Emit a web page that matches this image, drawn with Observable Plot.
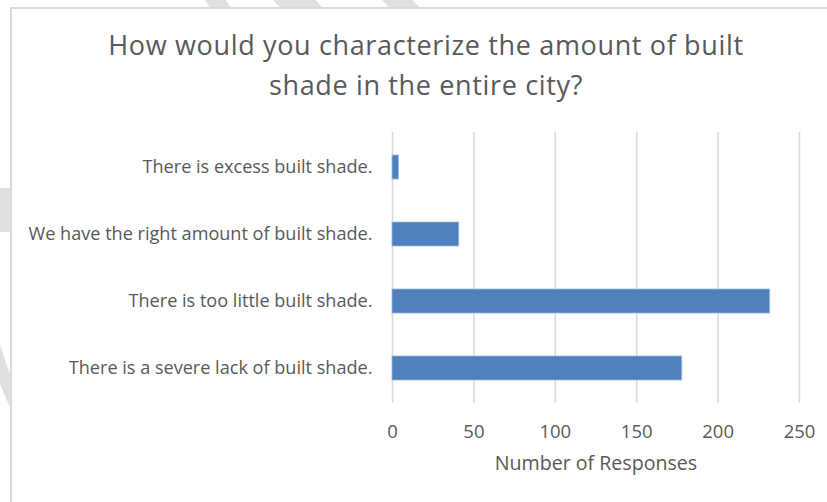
<!DOCTYPE html>
<html>
<head>
<meta charset="utf-8">
<script src="https://cdn.jsdelivr.net/npm/d3@7"></script>
<script src="https://cdn.jsdelivr.net/npm/@observablehq/plot@0.6"></script>
<style>
  html, body { margin: 0; padding: 0; background: #fff; width: 827px; height: 502px; overflow: hidden; position: relative; font-family: "Open Sans", Lato, sans-serif; }
  .stripe { position: absolute; background: #e0e0e0; }
  #frame { position: absolute; left: 10px; top: 7px; width: 840px; height: 520px; border: 2px solid #d9d9d9; background: #fff; }
  #title { position: absolute; left: 0; top: 25px; width: 852px; text-align: center; color: #595959; font-size: 27px; letter-spacing: 0.65px; line-height: 40px; font-weight: 400; white-space: nowrap; }
  #chart { position: absolute; left: 0; top: 0; }
</style>
</head>
<body>
<div class="stripe" style="left:205px;top:0;width:26px;height:8px;clip-path:polygon(0 0,80% 0,100% 100%,20% 100%)"></div>
<div class="stripe" style="left:273px;top:0;width:50px;height:8px;clip-path:polygon(0 0,85% 0,100% 100%,15% 100%)"></div>
<div class="stripe" style="left:382px;top:0;width:38px;height:8px;clip-path:polygon(0 0,80% 0,100% 100%,20% 100%)"></div>
<div class="stripe" style="left:0;top:188px;width:11px;height:44px"></div>
<div class="stripe" style="left:0;top:345px;width:11px;height:65px;clip-path:polygon(0 0,100% 50%,100% 100%,0 60%)"></div>
<div id="frame"></div>
<div id="title">How would you characterize the amount of built<br>shade in the entire city?</div>
<div id="chart"></div>
<script>
const categories = [
  "There is excess built shade.",
  "We have the right amount of built shade.",
  "There is too little built shade.",
  "There is a severe lack of built shade."
];
const responses = [4, 41, 232, 178];
const xTicks = [0, 50, 100, 150, 200, 250];
const xLabel = "Number of Responses";

const data = categories.map((c, i) => ({category: c, value: responses[i]}));
const font = "'Open Sans', Lato, sans-serif";

const chart = Plot.plot({
  width: 827,
  height: 502,
  marginLeft: 392,
  marginRight: 28,
  marginTop: 132,
  marginBottom: 99,
  style: {background: "transparent", fontFamily: font, color: "#595959"},
  x: {domain: [0, 250], ticks: xTicks},
  y: {domain: categories, paddingInner: 0.645, paddingOuter: 0.3225},
  marks: [
    Plot.ruleX(xTicks, {stroke: "#d9d9d9", strokeWidth: 1.5}),
    Plot.barX(data, {x: "value", y: "category", fill: "#4f81bd", stroke: "#9db9dd", strokeWidth: 0.8}),
    Plot.axisX({ticks: xTicks, tickSize: 0, tickPadding: 21, fontSize: 18.5, fill: "#595959", label: null}),
    Plot.axisY({tickSize: 0, tickPadding: 20, fontSize: 18.1, fill: "#595959", label: null}),
    Plot.text([xLabel], {frameAnchor: "bottom", dy: 60, fontSize: 19.6, fill: "#595959", lineAnchor: "middle"})
  ]
});
chart.querySelectorAll("text").forEach(t => t.setAttribute("fill", "#595959"));
document.getElementById("chart").appendChild(chart);
</script>
</body>
</html>
